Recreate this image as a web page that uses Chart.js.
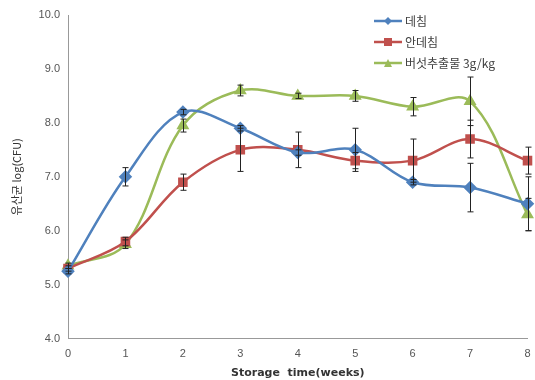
<!DOCTYPE html>
<html>
<head>
<meta charset="utf-8">
<script src="https://cdn.jsdelivr.net/npm/chart.js@4"></script>
<style>
    body { margin: 0; background: #fff; }
    #wrap { position: relative; width: 535px; height: 380px; }
    #legend { position: absolute; left: 374px; top: 10px; font-family: "Noto Sans CJK KR", sans-serif; font-size: 12px; color: #404040; }
    #legend div { height: 21px; display: flex; align-items: center; }
    #legend canvas { margin-right: 3px; }
</style>
</head>
<body>
<div id="wrap">
    <canvas id="chart" width="535" height="380"></canvas>
    <div id="legend"></div>
</div>
<script>
const weeks = [0, 1, 2, 3, 4, 5, 6, 7, 8];
const seriesNames = ['데침', '안데침', '버섯추출물 3g/kg'];
const blanched = [5.25, 7.0, 8.2, 7.9, 7.45, 7.5, 6.9, 6.8, 6.5];
const unblanched = [5.3, 5.8, 6.9, 7.5, 7.5, 7.3, 7.3, 7.7, 7.3];
const mushroom = [5.35, 5.75, 7.95, 8.6, 8.5, 8.5, 8.3, 8.4, 6.3];
const blanchedErr = [0.05, 0.17, 0.05, 0.05, 0.05, 0.4, 0.05, 0.45, 0.5];
const unblanchedErr = [0.05, 0.08, 0.15, 0.4, 0.33, 0.15, 0.4, 0.35, 0.25];
const mushroomErr = [0.05, 0.08, 0.12, 0.1, 0.05, 0.1, 0.17, 0.45, 0.3];
const yTicks = [4, 5, 6, 7, 8, 9, 10];

const colors = ['#4f81bd', '#c0504d', '#9bbb59'];
const shapes = ['rectRot', 'rect', 'triangle'];
const values = [blanched, unblanched, mushroom];
const errors = [blanchedErr, unblanchedErr, mushroomErr];

const errorBars = {
    id: 'errorBars',
    afterDatasetsDraw(chart) {
        const ctx = chart.ctx;
        const xs = chart.scales.x, ys = chart.scales.y;
        ctx.save();
        ctx.strokeStyle = '#222';
        ctx.lineWidth = 1;
        chart.data.datasets.forEach((ds, i) => {
            ds.data.forEach((p, j) => {
                const e = errors[i][j];
                const x = Math.round(xs.getPixelForValue(p.x)) + 0.5;
                const top = ys.getPixelForValue(p.y + e);
                const bot = ys.getPixelForValue(p.y - e);
                ctx.beginPath();
                ctx.moveTo(x, top); ctx.lineTo(x, bot);
                ctx.moveTo(x - 3, top); ctx.lineTo(x + 3, top);
                ctx.moveTo(x - 3, bot); ctx.lineTo(x + 3, bot);
                ctx.stroke();
            });
        });
        ctx.restore();
    }
};

const datasets = seriesNames.map((name, i) => ({
    label: name,
    data: weeks.map((w, j) => ({ x: w, y: values[i][j] })),
    borderColor: colors[i],
    backgroundColor: colors[i],
    borderWidth: 2.5,
    pointStyle: shapes[i],
    pointRadius: 5,
    tension: 0.35,
    clip: 8
}));

new Chart(document.getElementById('chart'), {
    type: 'line',
    data: { datasets },
    plugins: [errorBars],
    options: {
        responsive: false,
        animation: false,
        layout: { padding: { top: 15, right: 1, bottom: 0, left: 6 } },
        plugins: { legend: { display: false }, tooltip: { enabled: false } },
        scales: {
            x: {
                type: 'linear', min: 0, max: 8,
                afterBuildTicks: s => { s.ticks = weeks.map(v => ({ value: v })); },
                grid: { display: false, drawTicks: true, tickLength: 5, color: '#999' },
                border: { color: '#999' },
                ticks: { color: '#555', font: { family: 'Liberation Sans', size: 11 }, padding: 4 },
                title: { display: true, text: 'Storage  time(weeks)', color: '#333',
                    font: { family: 'DejaVu Sans', size: 11, weight: 'bold' }, padding: { top: 2, bottom: 0 } }
            },
            y: {
                min: 4, max: 10,
                afterBuildTicks: s => { s.ticks = yTicks.map(v => ({ value: v })); },
                afterFit: s => { s.width = 62; },
                grid: { display: false, tickLength: 5 },
                border: { color: '#999' },
                ticks: { color: '#555', font: { family: 'Liberation Sans', size: 11 },
                    callback: v => v.toFixed(1) },
                title: { display: true, text: '유산균 log(CFU)', color: '#333',
                    font: { family: 'Noto Sans CJK KR', size: 11 }, padding: { top: 4, bottom: 2 } }
            }
        }
    }
});

// legend with line + marker
const legend = document.getElementById('legend');
seriesNames.forEach((name, i) => {
    const row = document.createElement('div');
    const c = document.createElement('canvas');
    c.width = 28; c.height = 12;
    const g = c.getContext('2d');
    g.strokeStyle = colors[i]; g.fillStyle = colors[i]; g.lineWidth = 2.5;
    g.beginPath(); g.moveTo(0, 6); g.lineTo(28, 6); g.stroke();
    g.beginPath();
    if (i === 0) { g.moveTo(14, 2); g.lineTo(18, 6); g.lineTo(14, 10); g.lineTo(10, 6); }
    else if (i === 1) { g.rect(10, 2, 8, 8); }
    else { g.moveTo(14, 2); g.lineTo(18, 10); g.lineTo(10, 10); }
    g.fill();
    row.appendChild(c);
    const t = document.createElement('span');
    t.textContent = name;
    row.appendChild(t);
    legend.appendChild(row);
});
</script>
</body>
</html>
